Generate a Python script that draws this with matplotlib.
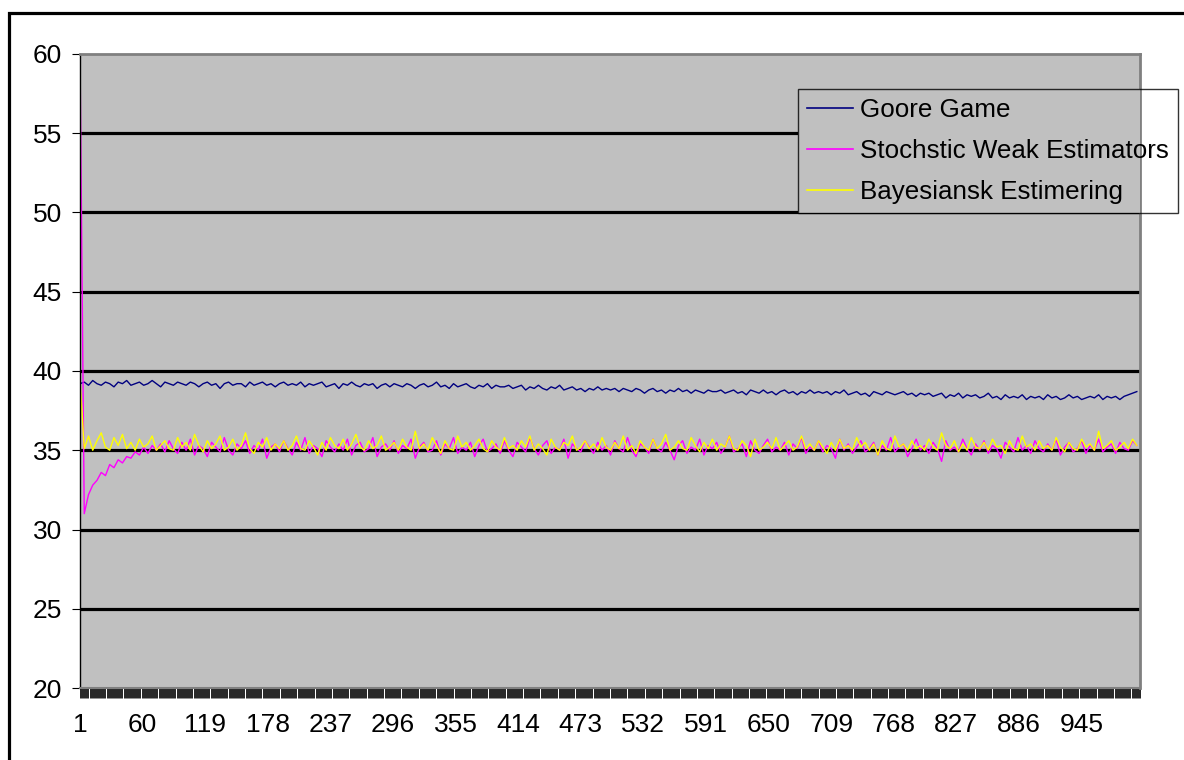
import numpy as np
import matplotlib
matplotlib.use('Agg')
import matplotlib.pyplot as plt
from matplotlib.patches import Rectangle

plt.rcParams['font.family'] = ['Liberation Sans', 'DejaVu Sans']

# series, sampled every 4th round (1, 5, 9, ... 997)
rounds = np.arange(1, 1000, 4)
n_rounds = 1000
label_step = 59

goore = [
    39.2, 39.3, 39.1, 39.4, 39.2, 39.1, 39.3, 39.2, 39.0, 39.3, 39.2, 39.4, 39.1, 39.2, 39.3, 39.1, 39.2, 39.4, 39.2, 39.0, 39.3, 39.2, 39.1, 39.3, 39.2,
    39.1, 39.3, 39.2, 39.0, 39.2, 39.3, 39.1, 39.2, 38.9, 39.2, 39.3, 39.1, 39.2, 39.2, 39.0, 39.3, 39.1, 39.2, 39.3, 39.1, 39.2, 39.0, 39.2, 39.3, 39.1,
    39.2, 39.1, 39.3, 39.0, 39.2, 39.1, 39.2, 39.3, 39.0, 39.1, 39.2, 38.9, 39.2, 39.1, 39.3, 39.1, 39.0, 39.2, 39.1, 39.2, 38.9, 39.1, 39.2, 39.0, 39.2,
    39.1, 39.0, 39.2, 39.1, 38.9, 39.1, 39.2, 39.0, 39.1, 39.3, 39.0, 39.1, 38.9, 39.2, 39.0, 39.1, 39.2, 39.0, 38.9, 39.1, 39.0, 39.2, 38.9, 39.1, 39.0,
    39.0, 39.1, 38.9, 39.0, 39.1, 38.8, 39.0, 38.9, 39.1, 38.9, 38.8, 39.0, 38.9, 39.1, 38.8, 38.9, 39.0, 38.8, 38.9, 38.7, 38.9, 38.8, 39.0, 38.8, 38.9,
    38.8, 38.9, 38.7, 38.9, 38.8, 38.7, 38.9, 38.8, 38.6, 38.8, 38.9, 38.7, 38.8, 38.6, 38.8, 38.7, 38.9, 38.7, 38.8, 38.6, 38.8, 38.7, 38.6, 38.8, 38.7,
    38.7, 38.8, 38.6, 38.7, 38.8, 38.6, 38.7, 38.5, 38.8, 38.7, 38.6, 38.8, 38.6, 38.7, 38.5, 38.7, 38.8, 38.6, 38.7, 38.5, 38.7, 38.6, 38.8, 38.6, 38.7,
    38.6, 38.7, 38.5, 38.7, 38.6, 38.8, 38.5, 38.6, 38.7, 38.5, 38.6, 38.4, 38.7, 38.6, 38.5, 38.7, 38.6, 38.5, 38.6, 38.7, 38.5, 38.6, 38.4, 38.6, 38.5,
    38.6, 38.4, 38.5, 38.6, 38.3, 38.5, 38.4, 38.6, 38.3, 38.5, 38.4, 38.5, 38.3, 38.4, 38.6, 38.3, 38.4, 38.2, 38.5, 38.3, 38.4, 38.3, 38.5, 38.2, 38.4,
    38.3, 38.4, 38.2, 38.5, 38.3, 38.4, 38.2, 38.3, 38.5, 38.3, 38.4, 38.2, 38.3, 38.4, 38.3, 38.5, 38.2, 38.4, 38.3, 38.4, 38.2, 38.4, 38.5, 38.6, 38.7,
]

swe = [
    60.0, 31.0, 32.2, 32.8, 33.1, 33.6, 33.4, 34.1, 33.9, 34.4, 34.2, 34.6, 34.5, 34.9, 34.7, 35.2, 34.8, 35.3, 35.0, 35.4, 34.9, 35.6, 35.1, 34.8, 35.5,
    35.0, 35.7, 34.7, 35.3, 35.1, 34.6, 35.5, 35.2, 34.9, 35.8, 35.0, 34.7, 35.4, 35.1, 35.6, 34.8, 35.3, 35.0, 35.7, 34.5, 35.2, 35.4, 34.9, 35.6, 35.1,
    34.7, 35.5, 35.0, 35.8, 34.8, 35.3, 35.1, 34.6, 35.6, 35.2, 34.9, 35.4, 35.0, 35.7, 34.7, 35.3, 35.5, 34.9, 35.1, 35.8, 34.6, 35.2, 35.4, 35.0, 35.6,
    34.8, 35.3, 35.1, 35.7, 34.5, 35.2, 35.5, 34.9, 35.0, 35.6, 34.7, 35.4, 35.1, 35.8, 34.8, 35.2, 35.0, 35.5, 34.6, 35.3, 35.7, 34.9, 35.1, 35.4, 34.8,
    35.6, 35.0, 34.6, 35.5, 35.2, 34.9, 35.8, 35.1, 34.7, 35.3, 35.6, 34.8, 35.2, 35.0, 35.7, 34.5, 35.4, 35.1, 34.9, 35.6, 35.2, 34.8, 35.5, 35.0, 35.3,
    34.7, 35.6, 35.1, 34.9, 35.8, 35.0, 34.6, 35.4, 35.2, 34.8, 35.7, 35.1, 34.9, 35.5, 35.0, 34.4, 35.3, 35.6, 34.8, 35.2, 35.0, 35.7, 34.7, 35.3, 35.1,
    35.5, 34.8, 35.2, 35.9, 34.9, 35.1, 35.4, 34.6, 35.6, 35.0, 34.8, 35.3, 35.7, 34.9, 35.2, 35.0, 35.5, 34.7, 35.4, 35.1, 35.8, 34.8, 35.2, 35.0, 35.6,
    34.9, 35.3, 35.1, 34.5, 35.7, 35.0, 35.4, 34.8, 35.2, 35.6, 34.9, 35.1, 35.5, 34.7, 35.3, 35.0, 35.8, 34.9, 35.2, 35.4, 34.6, 35.1, 35.7, 35.0, 35.3,
    34.8, 35.5, 35.1, 34.3, 35.6, 35.0, 35.2, 34.9, 35.7, 35.1, 34.7, 35.4, 35.0, 35.6, 34.8, 35.3, 35.1, 34.5, 35.5, 35.2, 34.9, 35.8, 35.0, 35.3, 34.8,
    35.6, 35.1, 34.9, 35.4, 35.0, 35.7, 34.7, 35.2, 35.5, 34.9, 35.1, 35.6, 34.8, 35.3, 35.0, 35.7, 34.9, 35.2, 35.4, 34.8, 35.5, 35.1, 35.0, 35.6, 35.3,
]

bayes = [
    39.5, 35.1, 35.9, 35.0, 35.6, 36.1, 35.2, 35.0, 35.8, 35.3, 36.0, 35.1, 35.5, 35.0, 35.7, 35.2, 35.4, 35.9, 35.0, 35.3, 35.6, 35.1, 35.0, 35.8, 35.2,
    35.5, 35.0, 36.0, 35.3, 34.9, 35.6, 35.1, 35.4, 35.9, 35.0, 35.2, 35.7, 35.0, 35.3, 36.1, 35.1, 34.8, 35.5, 35.2, 35.8, 35.0, 35.4, 35.1, 35.6, 35.0,
    35.3, 35.9, 35.1, 35.0, 35.6, 35.2, 34.7, 35.5, 35.0, 35.8, 35.3, 35.1, 35.7, 35.0, 35.4, 36.0, 35.2, 35.0, 35.6, 35.1, 35.3, 35.9, 35.0, 35.2, 35.5,
    35.0, 35.7, 35.2, 35.0, 36.2, 35.1, 35.4, 35.0, 35.8, 35.3, 34.8, 35.6, 35.1, 35.0, 35.9, 35.2, 35.5, 35.0, 35.3, 35.7, 35.1, 34.9, 35.6, 35.2, 35.0,
    35.8, 35.1, 35.3, 35.0, 35.6, 35.2, 35.9, 35.0, 35.4, 35.1, 34.7, 35.7, 35.2, 35.0, 35.5, 35.3, 35.9, 35.0, 35.2, 35.6, 35.1, 35.4, 35.0, 35.8, 35.2,
    35.0, 35.5, 35.1, 35.9, 35.0, 35.3, 34.8, 35.6, 35.2, 35.0, 35.7, 35.1, 35.4, 36.0, 35.0, 35.2, 35.6, 35.1, 35.0, 35.8, 35.3, 34.9, 35.5, 35.1, 35.7,
    35.0, 35.4, 35.2, 35.9, 35.1, 35.0, 35.6, 35.3, 34.6, 35.7, 35.0, 35.2, 35.5, 35.1, 35.8, 35.0, 35.3, 35.6, 35.0, 35.2, 35.9, 35.1, 35.4, 35.0, 35.6,
    35.2, 34.8, 35.5, 35.0, 35.7, 35.1, 35.3, 35.0, 35.8, 35.2, 35.5, 35.0, 35.4, 34.7, 35.6, 35.1, 35.0, 35.9, 35.2, 35.4, 35.0, 35.6, 35.1, 35.3, 35.0,
    35.7, 35.2, 35.0, 36.1, 35.3, 35.1, 35.6, 34.9, 35.4, 35.0, 35.8, 35.2, 35.1, 35.5, 35.0, 35.7, 35.2, 35.3, 34.8, 35.6, 35.1, 35.0, 35.9, 35.2, 35.4,
    35.0, 35.6, 35.1, 35.3, 35.0, 35.8, 35.2, 34.9, 35.5, 35.1, 35.0, 35.7, 35.2, 35.4, 35.0, 36.2, 35.1, 35.3, 35.6, 35.0, 35.2, 35.5, 35.1, 35.7, 35.3,
]

names = ['Goore Game', 'Stochstic Weak Estimators', 'Bayesiansk Estimering']
colors = ['#000080', '#FF00FF', '#FFFF00']
yticks = np.arange(20, 61, 5)
fs = 19

W, H = 1184, 760
fig = plt.figure(figsize=(W / 100, H / 100), dpi=100)
fig.patch.set_facecolor('white')
ax = fig.add_axes([80 / W, 72 / H, 1060 / W, 634 / H])
ax.set_facecolor('#C0C0C0')

# horizontal gridlines, none at the bottom/top edges
for y in yticks[1:-1]:
    ax.axhline(y, color='black', lw=2.3, zorder=1)

for vals, name, c in zip([goore, swe, bayes], names, colors):
    ax.plot(rounds, vals, color=c, lw=1.0, label=name, zorder=2)

ax.set_xlim(1, n_rounds)
ax.set_ylim(20, 60)
ax.set_yticks(yticks)
ax.set_yticklabels([str(v) for v in yticks])
ax.set_xticks(np.arange(1, n_rounds, label_step))
ax.set_xticks(np.arange(1, n_rounds + 1), minor=True)
ax.tick_params(axis='both', which='major', labelsize=fs, direction='out',
               length=6, width=0.8, color='black')
ax.tick_params(axis='y', pad=7)
ax.tick_params(axis='x', which='major', pad=11, length=7, width=0.6)
ax.tick_params(axis='x', which='minor', direction='out', length=7, width=0.6)

for s in ['top', 'right']:
    ax.spines[s].set_color('#808080')
    ax.spines[s].set_linewidth(2.0)
ax.spines['left'].set_color('black')
ax.spines['left'].set_linewidth(1.0)
ax.spines['bottom'].set_color('#808080')
ax.spines['bottom'].set_linewidth(1.5)

leg = ax.legend(loc='upper left', bbox_to_anchor=(798 / W, 1 - 89 / H),
                bbox_transform=fig.transFigure, fontsize=18.7, frameon=True,
                fancybox=False, shadow=False, borderaxespad=0, borderpad=0.35,
                labelspacing=0.65, handlelength=1.75, handletextpad=0.3)
leg.get_frame().set_facecolor('none')
leg.get_frame().set_edgecolor('black')
leg.get_frame().set_linewidth(1.0)
for line in leg.get_lines():
    line.set_linewidth(1.2)
leg.set_zorder(5)

# gray fill under the part of the legend that sits over the plot area
fig.canvas.draw()
bb = leg.get_window_extent().transformed(ax.transAxes.inverted())
ax.add_patch(Rectangle((bb.x0, bb.y0), min(bb.x1, 1.0) - bb.x0, bb.y1 - bb.y0,
                       transform=ax.transAxes, facecolor='#C0C0C0',
                       edgecolor='none', zorder=3))

# outer chart frame
fig.add_artist(Rectangle((9 / W, -0.1), 1.2, 1 - 13 / H + 0.1,
                         transform=fig.transFigure, fill=False,
                         edgecolor='black', lw=2.3))

fig.savefig('out.png', dpi=100)
